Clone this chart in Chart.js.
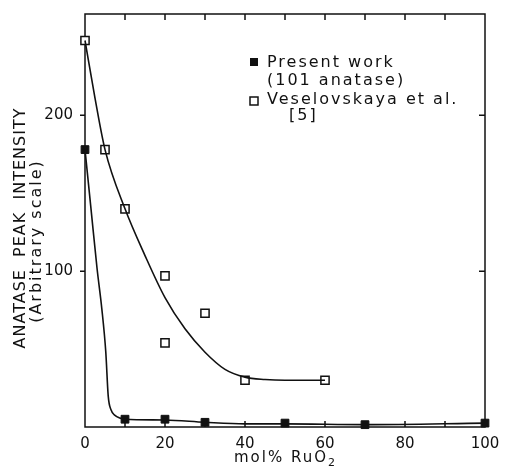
<!DOCTYPE html>
<html>
<head>
<meta charset="utf-8">
<title>Anatase peak intensity vs RuO2 content</title>
<script src="https://cdn.jsdelivr.net/npm/chart.js@4/dist/chart.umd.min.js"></script>
<style>
  html, body { margin: 0; padding: 0; background: #fff; }
  #wrap { width: 505px; height: 469px; }
</style>
</head>
<body>
<div id="wrap"><canvas id="chart"></canvas></div>
<script>
// measured points, mol% RuO2 vs anatase peak intensity
const presentX = [0, 10, 20, 30, 50, 70, 100];
const presentY = [178, 5, 5, 3, 2.5, 1.5, 2.5];
const veselX = [0, 5, 10, 20, 20, 30, 40, 60];
const veselY = [248, 178, 140, 97, 54, 73, 30, 30];

// hand-drawn fit curves through the points
const presentFitX = [0, 1.5, 3, 4.2, 5.2, 5.8, 6.5, 7.5, 8.7, 10, 20, 30, 40, 50, 70, 100];
const presentFitY = [178, 140, 102, 76, 48, 20, 11, 7.5, 5.8, 5, 4.5, 3, 2, 2, 1.5, 2.5];
const veselFitX = [0, 2.5, 5, 10, 15, 20, 25, 30, 35, 40, 45, 50, 60];
const veselFitY = [248, 211, 178, 140, 110, 83, 63, 48, 37, 32, 30.5, 30, 30];

// axis ticks
const xTickLabels = [0, 20, 40, 60, 80, 100];
const xTickMarks = [10, 20, 30, 40, 50, 60, 70, 80, 90];
const yTickLabels = [100, 200];

const legendLines = ["Present work", "(101 anatase)", "Veselovskaya et al.", "[5]"];
const yTitleLines = ["ANATASE  PEAK  INTENSITY", "(Arbitrary scale)"];

const ink = "#111";
const font = "'DejaVu Sans', sans-serif";

const pts = (xs, ys) => xs.map((v, i) => ({ x: v, y: ys[i] }));

// frame and inward tick marks, drawn under the data
const framePlugin = {
  id: "frame",
  beforeDatasetsDraw(chart) {
    const { ctx, chartArea: a, scales: { x, y } } = chart;
    ctx.save();
    ctx.strokeStyle = ink;
    ctx.lineWidth = 1.5;
    ctx.strokeRect(a.left, a.top, a.width, a.height);
    ctx.beginPath();
    xTickMarks.forEach(v => {
      const px = x.getPixelForValue(v);
      ctx.moveTo(px, a.top); ctx.lineTo(px, a.top + 6);
      ctx.moveTo(px, a.bottom); ctx.lineTo(px, a.bottom - 6);
    });
    yTickLabels.forEach(v => {
      const py = y.getPixelForValue(v);
      ctx.moveTo(a.left - 5, py); ctx.lineTo(a.left, py);
      ctx.moveTo(a.right, py); ctx.lineTo(a.right - 6, py);
    });
    ctx.stroke();
    ctx.restore();
  }
};

// axis titles and the in-plot key
const textPlugin = {
  id: "texts",
  afterDraw(chart) {
    const { ctx, chartArea: a } = chart;
    ctx.save();
    ctx.fillStyle = ink;
    ctx.strokeStyle = ink;

    // y title, two rotated lines
    ctx.textAlign = "center";
    ctx.textBaseline = "middle";
    ctx.save();
    ctx.translate(21, 228);
    ctx.rotate(-Math.PI / 2);
    ctx.font = "16px " + font;
    ctx.letterSpacing = "1px";
    ctx.fillText(yTitleLines[0], 0, 0);
    ctx.restore();
    ctx.save();
    ctx.translate(37, 241);
    ctx.rotate(-Math.PI / 2);
    ctx.font = "16px " + font;
    ctx.letterSpacing = "2px";
    ctx.fillText(yTitleLines[1], 0, 0);
    ctx.restore();

    // x title with subscript
    ctx.font = "15px " + font;
    ctx.letterSpacing = "2px";
    ctx.textAlign = "left";
    ctx.textBaseline = "alphabetic";
    const main = "mol% RuO";
    const w = ctx.measureText(main).width;
    const cx = (a.left + a.right) / 2;
    const x0 = cx - (w + 8) / 2;
    ctx.fillText(main, x0, 462);
    ctx.font = "11px " + font;
    ctx.letterSpacing = "0px";
    ctx.fillText("2", x0 + w, 466);

    // key
    ctx.font = "16px " + font;
    ctx.letterSpacing = "2px";
    ctx.fillText(legendLines[0], 267, 67);
    ctx.fillText(legendLines[1], 267, 85);
    ctx.fillText(legendLines[2], 267, 104);
    ctx.fillText(legendLines[3], 289, 120);
    ctx.fillRect(250, 58, 8, 8);
    ctx.lineWidth = 1.5;
    ctx.fillStyle = "#fff";
    ctx.fillRect(250, 97, 8, 8);
    ctx.strokeRect(250, 97, 8, 8);
    ctx.restore();
  }
};

new Chart(document.getElementById("chart"), {
  type: "scatter",
  data: {
    datasets: [
      {
        label: "Present work fit",
        data: pts(presentFitX, presentFitY),
        showLine: true,
        borderColor: ink,
        borderWidth: 1.6,
        pointRadius: 0,
        cubicInterpolationMode: "monotone",
        clip: false
      },
      {
        label: "Veselovskaya fit",
        data: pts(veselFitX, veselFitY),
        showLine: true,
        borderColor: ink,
        borderWidth: 1.6,
        pointRadius: 0,
        cubicInterpolationMode: "monotone",
        clip: false
      },
      {
        label: "Present work (101 anatase)",
        data: pts(presentX, presentY),
        pointStyle: "rect",
        pointRadius: 5.5,
        backgroundColor: ink,
        borderColor: ink,
        borderWidth: 1,
        clip: false
      },
      {
        label: "Veselovskaya et al. [5]",
        data: pts(veselX, veselY),
        pointStyle: "rect",
        pointRadius: 5.8,
        backgroundColor: "#fff",
        borderColor: ink,
        borderWidth: 1.5,
        clip: false
      }
    ]
  },
  options: {
    responsive: true,
    maintainAspectRatio: false,
    animation: false,
    layout: { padding: { top: 14, right: 20, bottom: 0, left: 0 } },
    plugins: { legend: { display: false }, tooltip: { enabled: false } },
    scales: {
      x: {
        type: "linear",
        min: 0,
        max: 100,
        afterBuildTicks: s => { s.ticks = xTickLabels.map(v => ({ value: v })); },
        afterFit: s => { s.height = 42; },
        grid: { display: false },
        border: { display: false },
        ticks: { color: ink, font: { family: font, size: 15 }, padding: 0, maxRotation: 0 }
      },
      y: {
        type: "linear",
        min: 0,
        max: 265,
        afterBuildTicks: s => { s.ticks = yTickLabels.map(v => ({ value: v })); },
        afterFit: s => { s.width = 85; },
        grid: { display: false },
        border: { display: false },
        ticks: { color: ink, font: { family: font, size: 15 }, padding: 4 }
      }
    }
  },
  plugins: [framePlugin, textPlugin]
});
</script>
</body>
</html>
